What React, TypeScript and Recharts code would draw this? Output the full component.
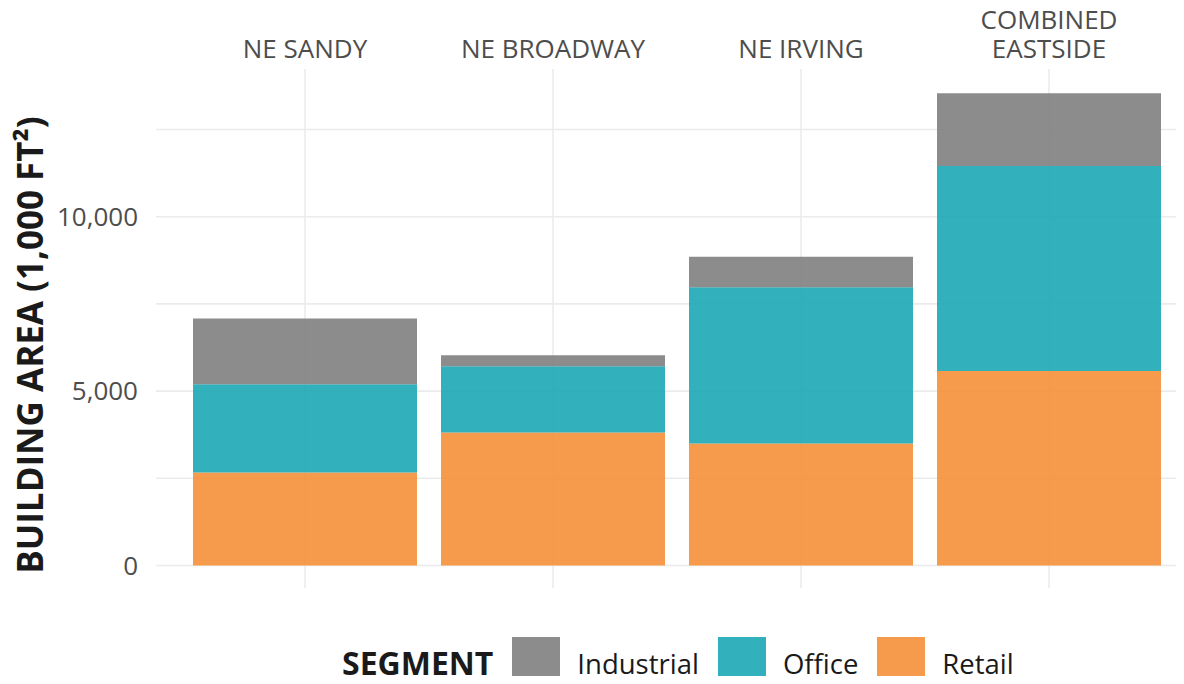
import React from "react"
import { BarChart, Bar, XAxis, YAxis, CartesianGrid } from "recharts"

const CATEGORIES = ["NE SANDY", "NE BROADWAY", "NE IRVING", "COMBINED\nEASTSIDE"]
const RETAIL = [2670, 3810, 3500, 5580]
const OFFICE = [2525, 1900, 4475, 5875]
const INDUSTRIAL = [1890, 315, 875, 2085]

const Y_TICKS = [0, 2500, 5000, 7500, 10000, 12500]
const Y_LABELED = [0, 5000, 10000]

const SEGMENTS = [
  { key: "Industrial", color: "#7f7f7f" },
  { key: "Office", color: "#1ca7b4" },
  { key: "Retail", color: "#f49037" },
]

const FONT = "'Open Sans', sans-serif"
const colorOf = (k: string) => SEGMENTS.find((s) => s.key === k)!.color

const data = CATEGORIES.map((c, i) => ({
  name: c,
  Retail: RETAIL[i],
  Office: OFFICE[i],
  Industrial: INDUSTRIAL[i],
}))

function StripTick({ x, payload }: any) {
  const lines = String(payload.value).split("\n")
  return (
    <g>
      {lines.map((l, i) => (
        <text
          key={i}
          x={x}
          y={58 - (lines.length - 1 - i) * 29}
          textAnchor="middle"
          fill="#4d4d4d"
          fontSize={26}
          fontFamily={FONT}
        >
          {l}
        </text>
      ))}
    </g>
  )
}

export default function App() {
  return (
    <div style={{ position: "relative", width: 1184, height: 684, margin: -8, overflow: "hidden", background: "#fff" }}>
      <BarChart
        width={1184}
        height={684}
        data={data}
        margin={{ top: 0, right: 0, bottom: 96, left: 0 }}
        barCategoryGap={12}
      >
        {/* syncWithTicks stops recharts adding lines at the plot edges */}
        <CartesianGrid stroke="#ebebeb" strokeWidth={1.6} syncWithTicks />
        <XAxis
          dataKey="name"
          orientation="top"
          height={69}
          axisLine={false}
          tickLine={false}
          interval={0}
          padding={{ left: 25, right: 11 }}
          tick={<StripTick />}
        />
        <YAxis
          width={156}
          type="number"
          domain={[-645, 14235]}
          allowDataOverflow
          ticks={Y_TICKS}
          tickFormatter={(v: number) => (Y_LABELED.includes(v) ? v.toLocaleString("en-US") : "")}
          axisLine={false}
          tickLine={false}
          tickSize={0}
          tickMargin={18}
          tick={{ fill: "#4d4d4d", fontSize: 26, fontFamily: FONT }}
          label={{
            content: () => (
              <text
                x={43}
                y={345}
                transform="rotate(-90 43 345)"
                textAnchor="middle"
                fill="#1a1a1a"
                fontSize={35}
                fontWeight={700}
                fontFamily={FONT}
              >
                BUILDING AREA (1,000 FT²)
              </text>
            ),
          }}
        />
        <Bar dataKey="Retail" stackId="a" fill={colorOf("Retail")} fillOpacity={0.9} isAnimationActive={false} />
        <Bar dataKey="Office" stackId="a" fill={colorOf("Office")} fillOpacity={0.9} isAnimationActive={false} />
        <Bar dataKey="Industrial" stackId="a" fill={colorOf("Industrial")} fillOpacity={0.9} isAnimationActive={false} />
      </BarChart>

      {/* legend, drawn like the ggplot guide at the bottom */}
      <div
        style={{
          position: "absolute",
          left: 342,
          top: 637,
          height: 48,
          display: "flex",
          alignItems: "center",
          fontFamily: FONT,
          color: "#1a1a1a",
        }}
      >
        <span style={{ fontSize: 32, fontWeight: 700, lineHeight: 1, position: "relative", top: 2 }}>SEGMENT</span>
        {SEGMENTS.map((s) => (
          <React.Fragment key={s.key}>
            <span
              style={{ width: 48, height: 48, marginLeft: 19, background: s.color, opacity: 0.9, display: "inline-block" }}
            />
            <span style={{ fontSize: 27.5, lineHeight: 1, marginLeft: 17, position: "relative", top: 3 }}>{s.key}</span>
          </React.Fragment>
        ))}
      </div>
    </div>
  )
}
